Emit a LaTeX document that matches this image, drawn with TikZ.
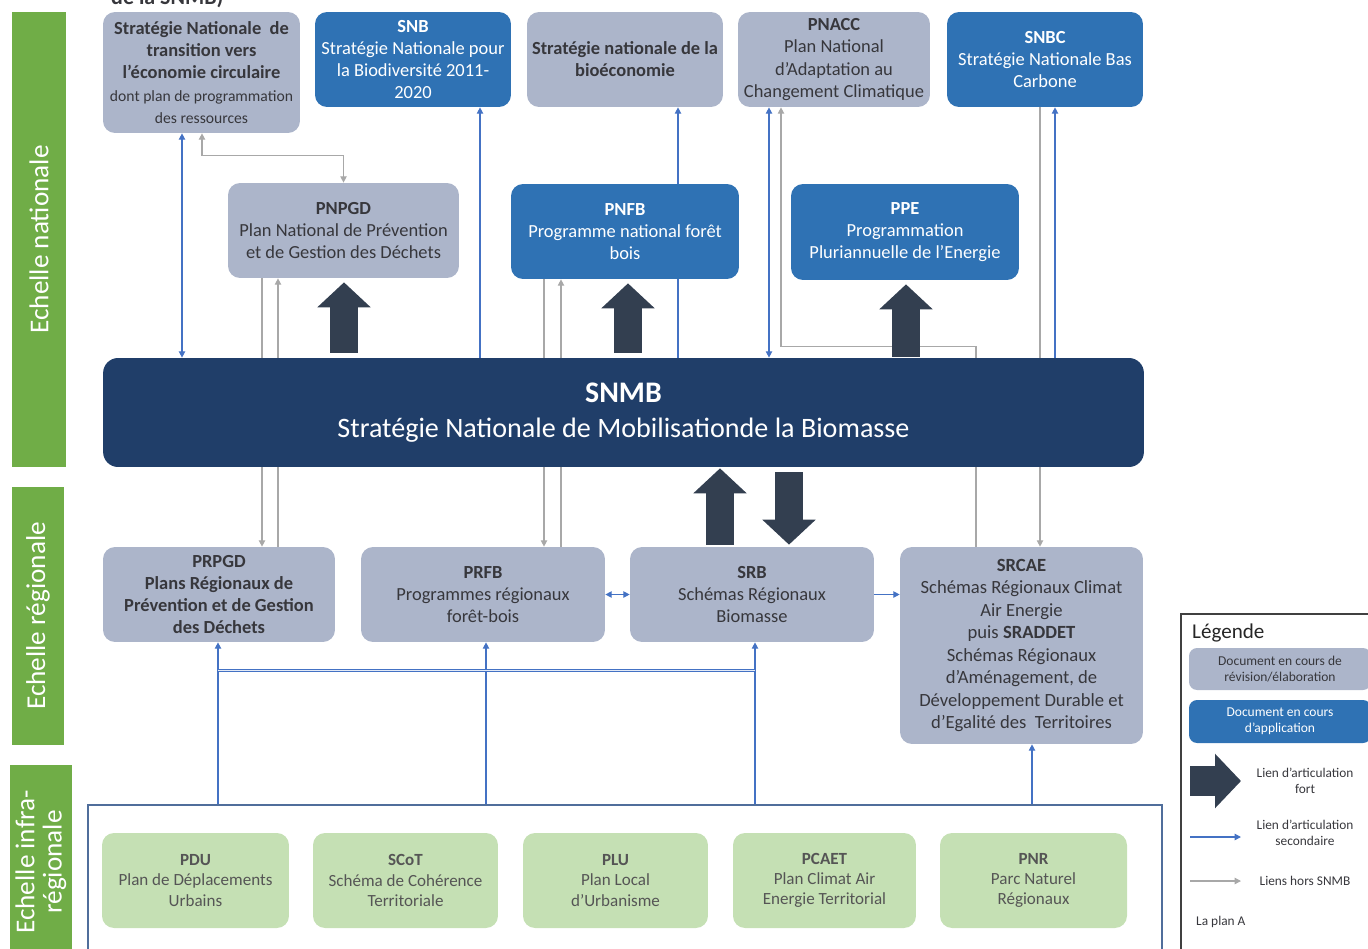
\documentclass[tikz,border=0pt]{standalone}
\usepackage{fontspec}
\setmainfont{Carlito}
\usetikzlibrary{arrows.meta, positioning, backgrounds}

\definecolor{grisdoc}{RGB}{172,181,202}
\definecolor{bleudoc}{RGB}{47,114,180}
\definecolor{marine}{RGB}{32,62,105}
\definecolor{marinefort}{RGB}{51,63,80}
\definecolor{vertbarre}{RGB}{112,173,71}
\definecolor{vertdoc}{RGB}{197,224,180}
\definecolor{gristexte}{RGB}{55,55,60}
\definecolor{vertexte}{RGB}{85,85,85}
\definecolor{bleulien}{RGB}{68,114,196}
\definecolor{grislien}{RGB}{168,168,168}
\definecolor{cadrebleu}{RGB}{80,110,155}

\begin{document}
\begin{tikzpicture}[x=0.02cm, y=-0.02cm,
    doc/.style={rounded corners=.24cm, align=center, inner sep=1pt,
        font=\fontsize{10.5}{12.6}\selectfont},
    boxgris/.style={doc, fill=grisdoc, text=gristexte},
    boxbleu/.style={doc, fill=bleudoc, text=white},
    boxvert/.style={doc, fill=vertdoc, text=vertexte, minimum height=1.9cm,
        font=\fontsize{9.7}{11.5}\selectfont},
    barre/.style={fill=vertbarre, text=white, rotate=90, align=center,
        font=\fontsize{15.5}{15.5}\selectfont},
    lienbleu/.style={draw=bleulien, line width=.7pt, >={Triangle[length=3.6pt,width=3.6pt]}},
    liengris/.style={draw=grislien, line width=.7pt, >={Triangle[length=3.6pt,width=3.6pt]}},
    fort/.style={draw=marinefort, line width=.56cm, -{Triangle[length=.5cm,width=1.04cm]}},
    legtexte/.style={text=gristexte, align=center, font=\fontsize{7.6}{9}\selectfont}
]
    \useasboundingbox (0,0) rectangle (1368,949);

    % echelles
    \node[barre, minimum width=9.1cm, minimum height=1.08cm] (nat) at (39,239.5) {Echelle nationale};
    \node[barre, minimum width=5.16cm, minimum height=1.04cm] (reg) at (38,616) {Echelle régionale};
    \node[barre, minimum width=3.9cm, minimum height=1.16cm] (infra) at (41,862) {Echelle infra-\\régionale};

    \node[anchor=base west, text=gristexte, font=\bfseries\fontsize{12.5}{15}\selectfont] (titre) at (105,5) {de la SNMB)};

    % echelle nationale
    \node[boxgris, minimum width=3.94cm, minimum height=2.42cm] (eco) at (201.5,72.5)
        {\textbf{Stratégie Nationale\ \ de}\\ \textbf{transition vers}\\ \textbf{l’économie circulaire}\\
         {\fontsize{8.9}{10.5}\selectfont dont plan de programmation}\\ {\fontsize{8.9}{10.5}\selectfont des ressources}};
    \node[boxbleu, minimum width=3.92cm, minimum height=1.9cm] (snb) at (413,59.5)
        {\textbf{SNB}\\Stratégie Nationale pour\\la Biodiversité 2011-\\2020};
    \node[boxgris, minimum width=3.92cm, minimum height=1.9cm] (bio) at (625,59.5)
        {\textbf{Stratégie nationale de la}\\ \textbf{bioéconomie}};
    \node[boxgris, minimum width=3.84cm, minimum height=1.9cm] (pnacc) at (834,59.5)
        {\textbf{PNACC}\\Plan National\\d’Adaptation au\\Changement Climatique};
    \node[boxbleu, minimum width=3.92cm, minimum height=1.9cm] (snbc) at (1045,59.5)
        {\textbf{SNBC}\\Stratégie Nationale Bas\\Carbone};

    \node[boxgris, minimum width=4.62cm, minimum height=1.9cm] (pnpgd) at (343.5,230.5)
        {\textbf{PNPGD}\\Plan National de Prévention\\et de Gestion des Déchets};
    \node[boxbleu, minimum width=4.56cm, minimum height=1.9cm] (pnfb) at (625,231.5)
        {\textbf{PNFB}\\Programme national forêt\\bois};
    \node[boxbleu, minimum width=4.56cm, minimum height=1.92cm] (ppe) at (905,232)
        {\textbf{PPE}\\Programmation\\Pluriannuelle de l’Energie};

    \node[fill=marine, text=white, rounded corners=.3cm, align=center, minimum width=20.82cm,
        minimum height=2.18cm, font=\fontsize{16}{20}\selectfont] (snmb) at (623.5,412.5)
        {\textbf{\fontsize{17}{20}\selectfont SNMB}\\Stratégie Nationale de Mobilisationde la Biomasse};

    % echelle regionale
    \node[boxgris, minimum width=4.64cm, minimum height=1.9cm] (prpgd) at (219,594.5)
        {\textbf{PRPGD}\\ \textbf{Plans Régionaux de}\\ \textbf{Prévention et de Gestion}\\ \textbf{des Déchets}};
    \node[boxgris, minimum width=4.88cm, minimum height=1.9cm] (prfb) at (483,594.5)
        {\textbf{PRFB}\\Programmes régionaux\\forêt-bois};
    \node[boxgris, minimum width=4.88cm, minimum height=1.9cm] (srb) at (752,594.5)
        {\textbf{SRB}\\Schémas Régionaux\\Biomasse};
    \node[boxgris, minimum width=4.86cm, minimum height=3.94cm, font=\fontsize{10.6}{12.8}\selectfont] (srcae) at (1021.5,645.5)
        {\textbf{SRCAE}\\Schémas Régionaux Climat\\Air Energie\\puis \textbf{SRADDET}\\Schémas Régionaux\\
         d’Aménagement, de\\Développement Durable et\\d’Egalité des\ \ Territoires};

    % echelle infra-regionale
    \node[draw=cadrebleu, line width=.8pt, minimum width=21.48cm, minimum height=3.1cm] (cadre) at (625,882.5) {};
    \node[boxvert, minimum width=3.74cm] (pdu) at (195.5,880.5) {\textbf{PDU}\\Plan de Déplacements\\Urbains};
    \node[boxvert, minimum width=3.7cm] (scot) at (405.5,880.5) {\textbf{SCoT}\\Schéma de Cohérence\\Territoriale};
    \node[boxvert, minimum width=3.7cm] (plu) at (615.5,880.5) {\textbf{PLU}\\Plan Local\\d’Urbanisme};
    \node[boxvert, minimum width=3.66cm] (pcaet) at (824.5,880.5) {\textbf{PCAET}\\Plan Climat Air\\Energie Territorial};
    \node[boxvert, minimum width=3.74cm] (pnr) at (1033.5,880.5) {\textbf{PNR}\\Parc Naturel\\Régionaux};

    % liens forts
    \draw[fort, shorten <=.1cm, shorten >=.08cm] (snmb.north -| 344,0) -- (pnpgd.south -| 344,0);
    \draw[fort, shorten <=.1cm, shorten >=.08cm] (snmb.north -| 628,0) -- (pnfb.south -| 628,0);
    \draw[fort, shorten <=.02cm, shorten >=.08cm] (snmb.north -| 906,0) -- (ppe.south -| 906,0);
    \draw[fort, shorten <=.04cm, shorten >=.02cm] (srb.north -| 720,0) -- (snmb.south -| 720,0);
    \draw[fort, shorten <=.1cm, shorten >=.04cm] (snmb.south -| 789,0) -- (srb.north -| 789,0);

    % liens secondaires et hors SNMB
    \begin{pgfonlayer}{background}
        \draw[lienbleu, <->] (eco.south -| 182,0) -- (snmb.north -| 182,0);
        \draw[liengris, <->] (eco.south -| 202,0) -- ++(0,22) -| (pnpgd.north);
        \draw[lienbleu, ->] (snmb.north -| 480,0) -- (snb.south -| 480,0);
        \draw[lienbleu, ->] (snmb.north -| 678,0) -- (bio.south -| 678,0);
        \draw[lienbleu, <->] (pnacc.south -| 769,0) -- (snmb.north -| 769,0);
        \draw[liengris, ->] (srcae.north -| 976,0) -- ++(0,-200) -| (pnacc.south -| 781,0);
        \draw[liengris, ->] (snbc.south -| 1040,0) -- (srcae.north -| 1040,0);
        \draw[lienbleu, ->] (snmb.north -| 1055,0) -- (snbc.south -| 1055,0);

        \draw[liengris, ->] (pnpgd.south -| 262,0) -- (prpgd.north -| 262,0);
        \draw[liengris, ->] (prpgd.north -| 278,0) -- (pnpgd.south -| 278,0);
        \draw[liengris, ->] (pnfb.south -| 544,0) -- (prfb.north -| 544,0);
        \draw[liengris, ->] (prfb.north -| 561,0) -- (pnfb.south -| 561,0);

        \draw[lienbleu, <->] (prfb.east) -- (srb.west);
        \draw[lienbleu, ->] (srb.east) -- (srcae.west |- srb.east);

        \draw[lienbleu, ->] (cadre.north -| 218,0) -- (prpgd.south -| 218,0);
        \draw[lienbleu, ->] (cadre.north -| 486,0) -- (prfb.south -| 486,0);
        \draw[lienbleu, ->] (cadre.north -| 755,0) -- (srb.south -| 755,0);
        \draw[lienbleu, ->] (cadre.north -| 1032,0) -- (srcae.south -| 1032,0);
        \draw[lienbleu, line width=.6pt, double=bleulien!15, double distance=.8pt] (prpgd.south -| 218,0) ++(0,28) -- ++(537,0);
    \end{pgfonlayer}

    % legende
    \draw[draw=black!75, line width=.8pt] (1181,614) rectangle (1380,960);
    \node[anchor=west, text=black!85, font=\fontsize{12}{14}\selectfont] (legende) at (1186,633) {Légende};
    \node[boxgris, minimum width=3.64cm, minimum height=.84cm, rounded corners=.16cm, font=\fontsize{7.7}{9}\selectfont] (lgris) at (1280,669)
        {Document en cours de\\révision/élaboration};
    \node[boxbleu, minimum width=3.64cm, minimum height=.86cm, rounded corners=.16cm, font=\fontsize{7.7}{9}\selectfont] (lbleu) at (1280,721.5)
        {Document en cours\\d’application};
    \coordinate (lf1) at (1190,781);
    \coordinate (lf2) at (1241,781);
    \coordinate (lb1) at (1190,837);
    \coordinate (lb2) at (1241,837);
    \coordinate (lg1) at (1190,881);
    \coordinate (lg2) at (1241,881);
    \draw[fort, line width=.6cm, -{Triangle[length=.52cm,width=1.06cm]}] (lf1) -- (lf2);
    \draw[lienbleu, ->] (lb1) -- (lb2);
    \draw[liengris, ->] (lg1) -- (lg2);
    \node[legtexte] (tfort) at (1305,781) {Lien d’articulation\\fort};
    \node[legtexte] (tsec) at (1305,833) {Lien d’articulation\\secondaire};
    \node[legtexte] (thors) at (1305,881) {Liens hors SNMB};
    \node[legtexte, anchor=west] (plan) at (1190,922) {La plan A};
\end{tikzpicture}
\end{document}
